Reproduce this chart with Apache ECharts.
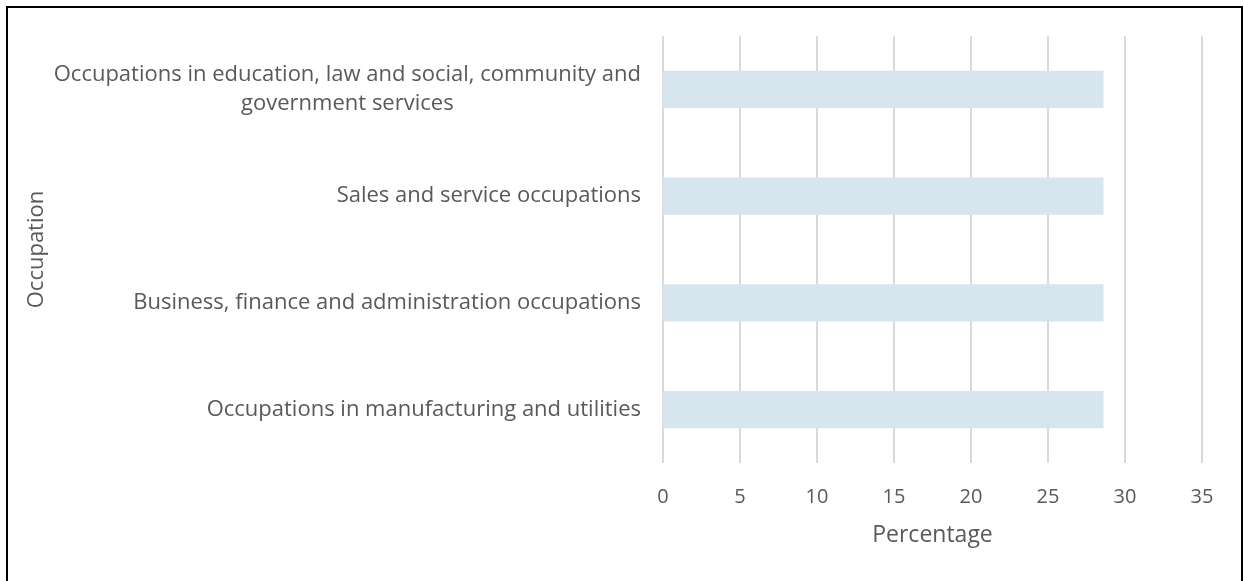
<!DOCTYPE html>
<html>
<head>
<meta charset="utf-8">
<script src="https://cdn.jsdelivr.net/npm/echarts@6/dist/echarts.min.js"></script>
<style>
  html, body { margin: 0; padding: 0; background: #fff; }
  #frame {
    position: absolute; left: 6px; top: 6px; width: 1237px; height: 600px;
    border: 2px solid #000; box-sizing: border-box; background: #fff;
  }
  #chart { position: absolute; left: 0; top: 0; width: 1244px; height: 581px; }
</style>
</head>
<body>
<div id="frame"></div>
<div id="chart"></div>
<script>
// Occupation categories, listed bottom to top as drawn on the category axis
const categories = [
  'Occupations in manufacturing and utilities',
  'Business, finance and administration occupations',
  'Sales and service occupations',
  'Occupations in education, law and social, community and\ngovernment services'
];
// Percentage for each occupation
const values = [28.6, 28.6, 28.6, 28.6];
// Value axis ticks
const axisMin = 0;
const axisMax = 35;
const axisStep = 5;

const FONT = 'Open Sans';
const TEXT = '#595959';

const chart = echarts.init(document.getElementById('chart'), null, { renderer: 'canvas' });
chart.setOption({
  backgroundColor: 'transparent',
  animation: false,
  grid: { left: 663, right: 42, top: 36, bottom: 118, containLabel: false },
  xAxis: {
    type: 'value',
    min: axisMin, max: axisMax, interval: axisStep,
    name: 'Percentage',
    nameLocation: 'middle',
    nameGap: 61,
    nameTextStyle: { fontFamily: FONT, fontSize: 23, color: TEXT },
    axisLine: { show: false },
    axisTick: { show: false },
    axisLabel: { fontFamily: FONT, fontSize: 20, color: TEXT, margin: 24 },
    splitLine: { show: true, lineStyle: { color: '#d9d9d9', width: 2 } }
  },
  yAxis: {
    type: 'category',
    data: categories,
    name: 'Occupation',
    nameLocation: 'middle',
    nameGap: 615,
    nameRotate: 90,
    nameTextStyle: { fontFamily: FONT, fontSize: 22, color: TEXT },
    axisLine: { show: false },
    axisTick: { show: false },
    axisLabel: {
      margin: 22,
      formatter: function (v) { return '{c|' + v + '}'; },
      rich: {
        c: { fontFamily: FONT, fontSize: 22, color: TEXT, align: 'center', lineHeight: 29 }
      }
    },
    splitLine: { show: false }
  },
  series: [{
    type: 'bar',
    data: values,
    barCategoryGap: '65%',
    itemStyle: { color: '#d7e5ef' }
  }]
});
</script>
</body>
</html>
